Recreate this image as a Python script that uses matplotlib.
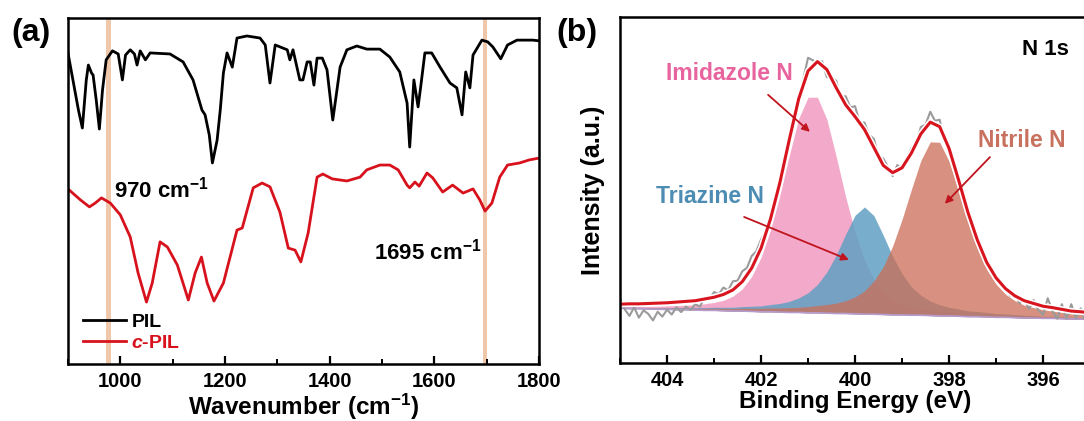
import matplotlib
matplotlib.use("Agg")
import matplotlib.pyplot as plt
import numpy as np
from matplotlib.ticker import MultipleLocator

plt.rcParams['font.family'] = ['Liberation Sans', 'DejaVu Sans']
plt.rcParams['font.weight'] = 'bold'
plt.rcParams['axes.labelweight'] = 'bold'
plt.rcParams['mathtext.fontset'] = 'custom'
plt.rcParams['mathtext.rm'] = 'Liberation Sans:bold'
plt.rcParams['mathtext.bf'] = 'Liberation Sans:bold'
plt.rcParams['mathtext.it'] = 'Liberation Sans:style=italic:weight=bold'
plt.rcParams['mathtext.default'] = 'bf'

# (a) FTIR, transmittance in arbitrary units (0-100 = axis height)
pil_wn = [900, 920, 927.5, 935, 939, 945, 948, 954, 960, 966, 973, 985, 996, 1004, 1010, 1019, 1027, 1032, 1038, 1048,
          1057, 1095, 1120, 1139, 1156, 1162, 1170, 1176, 1185, 1191, 1197, 1204, 1214, 1223, 1242, 1267, 1277, 1286, 1296, 1319,
          1324, 1330, 1343, 1349, 1357, 1363, 1370, 1376, 1386, 1395, 1406, 1414, 1420, 1433, 1452, 1471, 1496, 1515, 1534, 1548,
          1553, 1561, 1569, 1574, 1582, 1595, 1611, 1630, 1643, 1653, 1660, 1668, 1674, 1691, 1702, 1712, 1727, 1740, 1758, 1788, 1800]
pil_t = [89.9, 73.4, 68.2, 82.1, 86.4, 84.1, 83.5, 76.3, 67.9, 79.2, 87.9, 90.5, 89.6, 82.1, 89.3, 90.8, 89.6, 86.4, 90.5, 87.9,
         89.9, 89.6, 87.3, 82.1, 73.4, 72.0, 66.2, 58.1, 64.7, 73.4, 84.1, 89.9, 85.8, 94.2, 94.8, 94.2, 92.2, 81.2, 92.2, 90.8,
         87.9, 90.8, 82.1, 82.1, 87.3, 87.3, 80.6, 88.4, 88.4, 85.0, 70.5, 79.2, 85.8, 90.8, 91.9, 91.0, 91.0, 88.7, 84.4, 75.4,
         62.7, 82.1, 74.3, 80.1, 89.9, 89.9, 85.8, 81.2, 79.8, 72.0, 84.4, 79.8, 89.3, 93.6, 93.1, 91.6, 88.2, 92.2, 93.6, 93.6, 93.4]

cpil_wn = [900, 924, 941, 952, 964, 981, 1000, 1019, 1034, 1050, 1061, 1076, 1090, 1109, 1130, 1143, 1155, 1166, 1179, 1197,
           1223, 1233, 1254, 1271, 1286, 1305, 1321, 1334, 1345, 1359, 1376, 1387, 1405, 1433, 1458, 1471, 1496, 1515, 1531, 1548,
           1553, 1563, 1571, 1586, 1597, 1616, 1635, 1655, 1674, 1687, 1697, 1710, 1725, 1740, 1763, 1782, 1800]
cpil_t = [50.6, 47.4, 45.4, 46.5, 48.0, 46.5, 43.1, 36.7, 26.3, 17.9, 23.4, 35.3, 33.8, 28.6, 18.5, 26.3, 30.9, 23.4, 18.2, 23.4,
          38.7, 39.3, 50.9, 52.3, 51.2, 43.9, 33.5, 32.9, 29.5, 37.9, 54.0, 54.9, 53.5, 52.9, 54.0, 56.1, 57.5, 57.5, 56.1, 51.7,
          50.9, 52.6, 51.4, 55.2, 53.8, 49.7, 51.7, 49.4, 50.6, 47.4, 44.2, 46.5, 54.0, 57.5, 58.1, 59.0, 59.5]

band_pos = [977, 1697]
band_text = ['970 cm$^{-1}$', '1695 cm$^{-1}$']

# (b) XPS N 1s
be = [405.0, 404.8, 404.6, 404.4, 404.2, 404.0, 403.8, 403.6, 403.4, 403.2, 403.0, 402.8, 402.6, 402.4, 402.2, 402.0, 401.8,
      401.6, 401.4, 401.2, 401.0, 400.8, 400.6, 400.4, 400.2, 400.0, 399.8, 399.6, 399.4, 399.2, 399.0, 398.8, 398.6, 398.4,
      398.2, 398.0, 397.8, 397.6, 397.4, 397.2, 397.0, 396.8, 396.6, 396.4, 396.2, 396.0, 395.8, 395.6, 395.4, 395.2, 395.0]
background = [15.8, 15.7, 15.7, 15.6, 15.5, 15.5, 15.4, 15.4, 15.3, 15.2, 15.2, 15.1, 15.0, 15.0, 14.9, 14.8, 14.8, 14.7, 14.6,
              14.6, 14.5, 14.5, 14.4, 14.3, 14.3, 14.2, 14.1, 14.1, 14.0, 13.9, 13.9, 13.8, 13.8, 13.7, 13.6, 13.6, 13.5, 13.4,
              13.4, 13.3, 13.2, 13.2, 13.1, 13.0, 13.0, 12.9, 12.9, 12.8, 12.7, 12.7, 12.6]
imidazole = [0.6, 0.7, 0.7, 0.8, 0.9, 1.0, 1.2, 1.3, 1.5, 1.9, 2.3, 3.0, 4.3, 6.4, 10.1, 15.7, 23.6, 33.7, 45.3, 56.0,
             62.3, 62.3, 56.0, 45.3, 33.7, 23.6, 15.7, 10.1, 6.4, 4.3, 3.0, 2.3, 1.9, 1.5, 1.3, 1.2, 1.0, 0.9, 0.8, 0.7,
             0.7, 0.6, 0.5, 0.5, 0.5, 0.4, 0.4, 0.4, 0.3, 0.3, 0.3]
triazine = [0.3, 0.4, 0.4, 0.4, 0.5, 0.5, 0.6, 0.6, 0.7, 0.8, 0.9, 1.0, 1.1, 1.3, 1.5, 1.7, 2.1, 2.5, 3.2, 4.2,
            5.8, 8.2, 11.9, 16.9, 22.9, 28.5, 31.0, 28.5, 22.9, 16.9, 11.9, 8.2, 5.8, 4.2, 3.2, 2.5, 2.1, 1.7, 1.5, 1.3,
            1.1, 1.0, 0.9, 0.8, 0.7, 0.6, 0.6, 0.5, 0.5, 0.4, 0.4]
nitrile = [0.3, 0.3, 0.3, 0.4, 0.4, 0.4, 0.4, 0.5, 0.5, 0.6, 0.6, 0.7, 0.7, 0.8, 0.9, 1.0, 1.1, 1.2, 1.4, 1.5,
           1.8, 2.1, 2.5, 3.0, 3.7, 4.9, 6.7, 9.6, 13.8, 19.9, 27.6, 36.4, 44.7, 50.2, 50.2, 44.7, 36.4, 27.6, 19.9, 13.8,
           9.6, 6.7, 4.9, 3.7, 3.0, 2.5, 2.1, 1.8, 1.5, 1.4, 1.2]

be_raw = [405.0, 404.9, 404.8, 404.7, 404.6, 404.5, 404.4, 404.3, 404.2, 404.1, 404.0, 403.9, 403.8, 403.7, 403.6, 403.5,
          403.4, 403.3, 403.2, 403.1, 403.0, 402.9, 402.8, 402.7, 402.6, 402.5, 402.4, 402.3, 402.2, 402.1, 402.0, 401.9,
          401.8, 401.7, 401.6, 401.5, 401.4, 401.3, 401.2, 401.1, 401.0, 400.9, 400.8, 400.7, 400.6, 400.5, 400.4, 400.3,
          400.2, 400.1, 400.0, 399.9, 399.8, 399.7, 399.6, 399.5, 399.4, 399.3, 399.2, 399.1, 399.0, 398.9, 398.8, 398.7,
          398.6, 398.5, 398.4, 398.3, 398.2, 398.1, 398.0, 397.9, 397.8, 397.7, 397.6, 397.5, 397.4, 397.3, 397.2, 397.1,
          397.0, 396.9, 396.8, 396.7, 396.6, 396.5, 396.4, 396.3, 396.2, 396.1, 396.0, 395.9, 395.8, 395.7, 395.6, 395.5,
          395.4, 395.3, 395.2, 395.1, 395.0]
raw = [18.5, 15.5, 13.6, 16.1, 13.1, 15.2, 14.2, 12.3, 14.8, 13.4, 15.4, 14.0, 16.1, 14.7, 16.3, 15.4, 17.0, 16.3, 19.0, 18.3,
       20.5, 19.9, 21.8, 21.0, 23.6, 23.8, 26.5, 27.5, 30.9, 32.3, 35.7, 38.4, 43.1, 46.9, 53.1, 57.5, 65.0, 68.6, 76.7, 82.2,
       88.2, 87.5, 86.8, 87.2, 82.6, 82.8, 81.5, 76.8, 77.1, 73.9, 74.2, 69.4, 69.5, 65.9, 64.8, 59.7, 59.1, 56.6, 54.0, 57.2,
       55.9, 59.1, 62.2, 63.0, 68.2, 68.9, 72.6, 70.0, 70.3, 64.2, 63.0, 58.0, 54.0, 48.8, 44.6, 39.6, 36.1, 31.9, 29.6, 26.9,
       25.1, 22.6, 21.5, 19.5, 19.9, 17.2, 18.5, 15.6, 18.2, 15.3, 13.9, 18.7, 15.0, 12.8, 17.0, 12.8, 17.0, 12.9, 15.8, 12.2,
       16.0]

fig = plt.figure(figsize=(10.84, 4.21), dpi=100)

# ---------------- panel (a)
ax1 = fig.add_axes([0.0627, 0.1354, 0.4345, 0.8219])
for b in band_pos:
    ax1.axvspan(b - 4.5, b + 4.5, color='#efc7ab', lw=0, zorder=0)
ax1.plot(pil_wn, pil_t, color='black', lw=2, label='PIL')
ax1.plot(cpil_wn, cpil_t, color='#d7121c', lw=2, label=r'$\mathit{c}$-PIL')
ax1.text(1078, 50.3, band_text[0], fontsize=16, ha='center', va='center')
ax1.text(1588, 32.4, band_text[1], fontsize=16, ha='center', va='center')
ax1.set_xlim(900, 1800)
ax1.set_ylim(0, 100)
ax1.xaxis.set_major_locator(MultipleLocator(200))
ax1.xaxis.set_minor_locator(MultipleLocator(100))
ax1.set_xlabel('Wavenumber (cm$^{-1}$)', fontsize=17.5, labelpad=0)
leg = ax1.legend(loc='lower left', bbox_to_anchor=(0.015, 0.012), frameon=False, fontsize=14,
                 handlelength=2.2, handletextpad=0.3, labelspacing=0.2, borderaxespad=0)
leg.get_texts()[1].set_color('#d7121c')

# ---------------- panel (b)
ax2 = fig.add_axes([0.572, 0.1378, 0.4336, 0.8219])
bg = np.array(background)
ax2.fill_between(be, bg, bg + np.array(imidazole), color='#f3a9c9', lw=0)
ax2.fill_between(be, bg, bg + np.array(triazine), color='#61a0c2', alpha=0.85, lw=0)
ax2.fill_between(be, bg, bg + np.array(nitrile), color='#cc6d55', alpha=0.75, lw=0)
ax2.plot(be, bg, color='#b59ccc', lw=1.2)
ax2.plot(be_raw, raw, color='#9a9a9a', lw=1.5)
fit = bg + np.array(imidazole) + np.array(triazine) + np.array(nitrile)
ax2.plot(be, fit, color='white', lw=4.5)
ax2.plot(be, fit, color='#d8141e', lw=2.2)

arrow = dict(arrowstyle='-|>', color='#c0141e', lw=1.3, mutation_scale=11, shrinkA=0, shrinkB=0)
ax2.annotate('', xy=(400.96, 66.8), xytext=(401.85, 77.5), arrowprops=arrow)
ax2.annotate('', xy=(400.13, 29.8), xytext=(402.36, 42.2), arrowprops=arrow)
ax2.annotate('', xy=(398.09, 46.0), xytext=(397.13, 59.5), arrowprops=arrow)
ax2.text(402.68, 83.8, 'Imidazole N', color='#e8649e', fontsize=16.5, ha='center', va='center')
ax2.text(403.09, 48.0, 'Triazine N', color='#4d8db3', fontsize=16.5, ha='center', va='center')
ax2.text(396.45, 64.2, 'Nitrile N', color='#c9715f', fontsize=16.5, ha='center', va='center')
ax2.text(395.96, 90.5, 'N 1s', color='black', fontsize=16, ha='center', va='center')

ax2.set_xlim(405, 395)
ax2.set_ylim(0, 100)
ax2.xaxis.set_major_locator(MultipleLocator(2))
ax2.xaxis.set_minor_locator(MultipleLocator(1))
ax2.set_xlabel('Binding Energy (eV)', fontsize=17.5, labelpad=0)
ax2.set_ylabel('Intensity (a.u.)', fontsize=18, labelpad=11)

for ax in (ax1, ax2):
    for s in ax.spines.values():
        s.set_linewidth(1.8)
    ax.tick_params(axis='x', which='major', direction='in', length=6, width=1.6, labelsize=14.5, pad=6)
    ax.tick_params(axis='x', which='minor', direction='in', length=3.5, width=1.4)
    ax.tick_params(axis='y', left=False, labelleft=False, which='both')

fig.text(31 / 1084, 1 - 33 / 421, '(a)', fontsize=23, ha='center', va='center')
fig.text(577 / 1084, 1 - 33 / 421, '(b)', fontsize=23, ha='center', va='center')

fig.savefig('out.png', dpi=100)
